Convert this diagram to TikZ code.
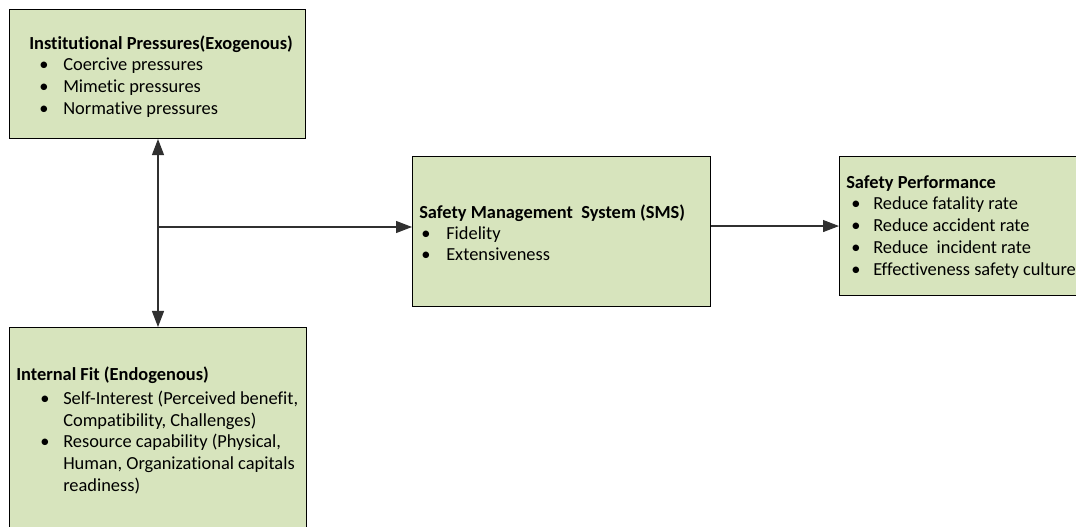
\documentclass[tikz,border=0pt]{standalone}
\usepackage{fontspec}
\setmainfont{Carlito}[RawFeature=-liga]
\usetikzlibrary{arrows.meta}
\definecolor{boxfill}{HTML}{D7E4BD}
\definecolor{linkgray}{HTML}{303030}
\begin{document}
\begin{tikzpicture}[x=0.75pt,y=-0.75pt,
  box/.style={draw=black, fill=boxfill, line width=0.8pt, anchor=north west, inner sep=0pt},
  txt/.style={anchor=base west, inner sep=0pt, font=\fontsize{13.8}{16}\selectfont},
  head/.style={txt, font=\fontsize{13.8}{16}\selectfont\bfseries},
  tip/.tip={Triangle[length=12pt, width=9pt]},
  link/.style={draw=linkgray, line width=0.8pt}
]
\useasboundingbox (0,0) rectangle (1076,527);
\clip (0,0) rectangle (1076,527);

% boxes
\node[box, minimum width=222pt, minimum height=96.75pt] (inst) at (9,9) {};
\node[box, minimum width=222.75pt, minimum height=160pt] (fit) at (9,327) {};
\node[box, minimum width=223.5pt, minimum height=112.5pt] (sms) at (412,156) {};
\node[box, minimum width=188.25pt, minimum height=104.25pt] (perf) at (839,156) {};

% institutional pressures
\node[head] (instT) at (29,50) {Institutional Pressures(Exogenous)};
\node[txt] (instB1) at (39,71) {•};
\node[txt] (instL1) at (63,71) {Coercive pressures};
\node[txt] (instB2) at (39,93) {•};
\node[txt] (instL2) at (63,93) {Mimetic pressures};
\node[txt] (instB3) at (39,115) {•};
\node[txt] (instL3) at (63,115) {Normative pressures};

% internal fit
\node[head] (fitT) at (16,381) {Internal Fit (Endogenous)};
\node[txt] (fitB1) at (40,405) {•};
\node[txt] (fitL1) at (63,405) {Self-Interest (Perceived benefit,};
\node[txt] (fitL1b) at (63,427) {Compatibility, Challenges)};
\node[txt] (fitB2) at (40,448) {•};
\node[txt] (fitL2) at (63,448) {Resource capability (Physical,};
\node[txt] (fitL2b) at (63,470) {Human, Organizational capitals};
\node[txt] (fitL2c) at (63,492) {readiness)};

% safety management system
\node[head] (smsT) at (419,219) {Safety Management\ \ System (SMS)};
\node[txt] (smsB1) at (421,240) {•};
\node[txt] (smsL1) at (446,240) {Fidelity};
\node[txt] (smsB2) at (421,261) {•};
\node[txt] (smsL2) at (446,261) {Extensiveness};

% safety performance
\node[head] (perfT) at (846,189) {Safety Performance};
\node[txt] (perfB1) at (851,210) {•};
\node[txt] (perfL1) at (873,210) {Reduce fatality rate};
\node[txt] (perfB2) at (851,232) {•};
\node[txt] (perfL2) at (873,232) {Reduce accident rate};
\node[txt] (perfB3) at (851,254) {•};
\node[txt] (perfL3) at (873,254) {Reduce\ \ incident rate};
\node[txt] (perfB4) at (851,276) {•};
\node[txt] (perfL4) at (873,276) {Effectiveness safety culture};

% connectors
\coordinate (junc) at (158,227);
\draw[link, {tip}-{tip}] (junc |- inst.south) -- (junc |- fit.north);
\draw[link, -{tip}] (junc) -- (junc -| sms.west);
\draw[link, -{tip}] (sms.east |- perf.west) -- (perf.west);
\end{tikzpicture}
\end{document}
